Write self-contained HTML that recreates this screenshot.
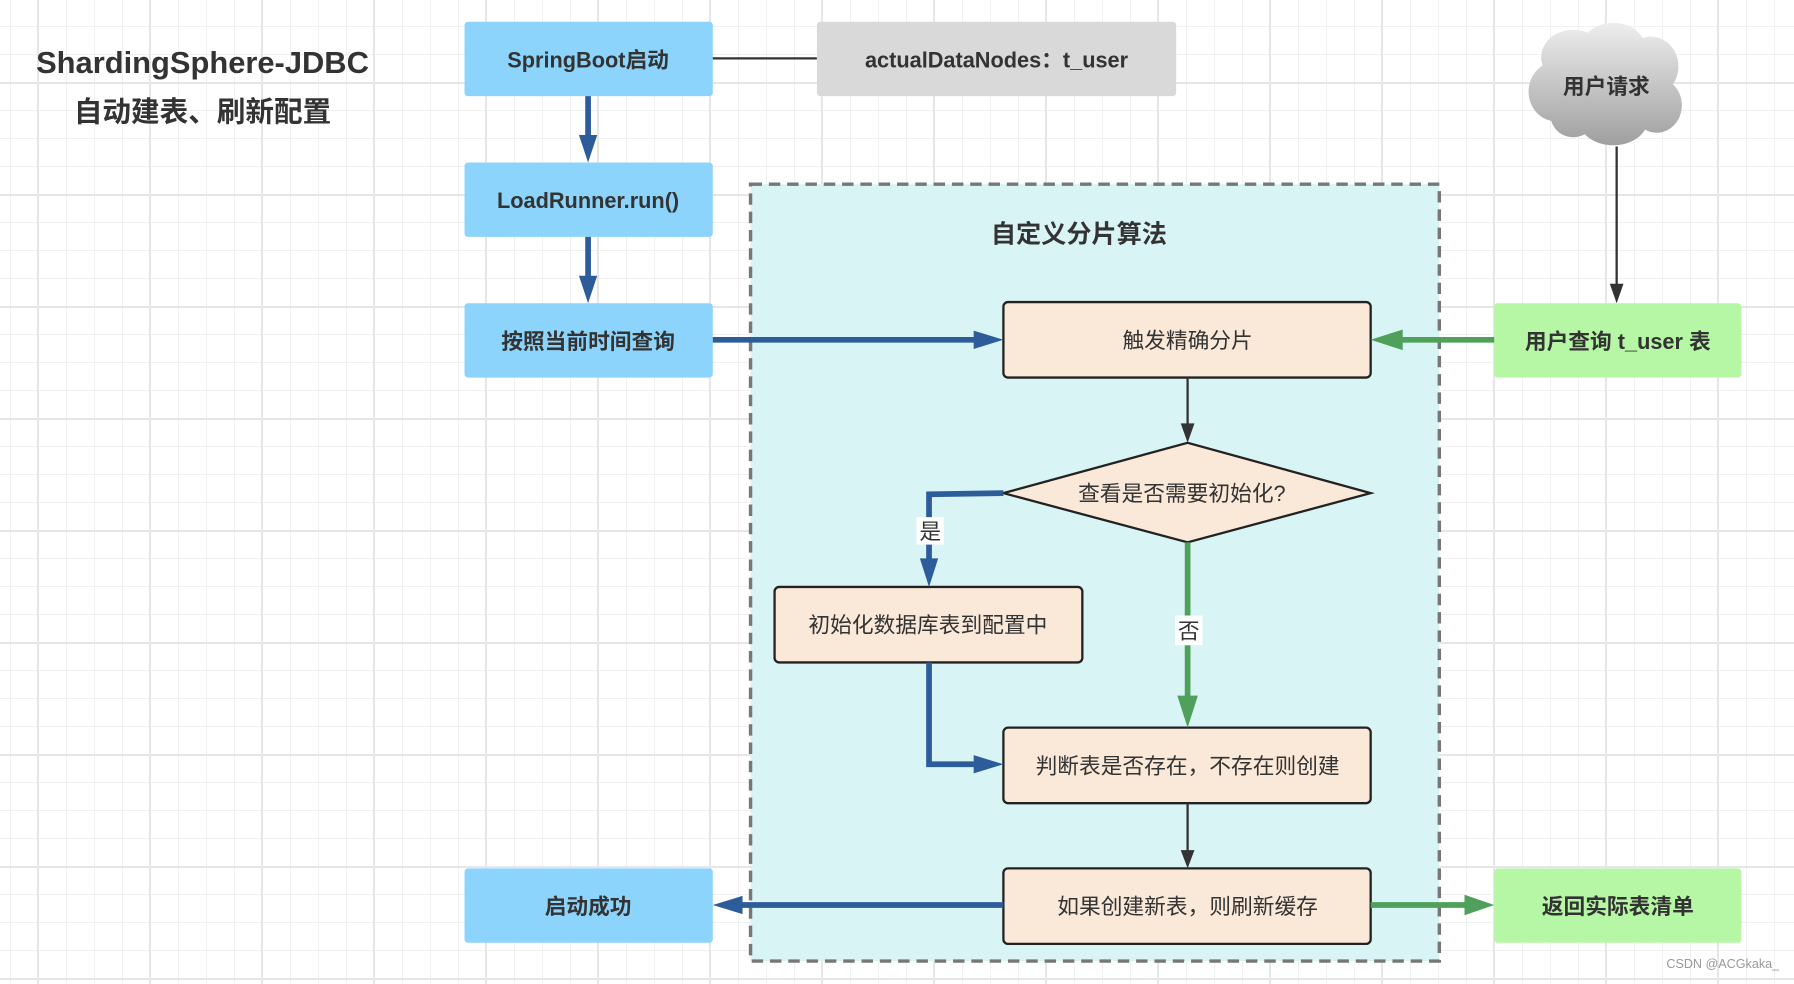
<!DOCTYPE html>
<html><head><meta charset="utf-8"><style>
html,body{margin:0;padding:0;}
body{width:1794px;height:978px;overflow:hidden;position:relative;background-color:#fff;
background-image:
linear-gradient(to right,#e6e6e6 2px,transparent 2px),
linear-gradient(to bottom,#e6e6e6 2px,transparent 2px),
linear-gradient(to right,#f1f1f1 1px,transparent 1px),
linear-gradient(to bottom,#f1f1f1 1px,transparent 1px);
background-size:112px 112px,112px 112px,28px 28px,28px 28px;
background-position:37px 0,0 82px,10px 0,0 26px;
font-family:"Liberation Sans","Noto Sans CJK SC",sans-serif;}
#w{position:absolute;left:0;top:0;width:1568px;height:855px;transform:scale(1.14413);transform-origin:0 0;}
</style></head><body><div id="w">
<svg width="1568" height="855" viewBox="0 0 1568 855" xmlns="http://www.w3.org/2000/svg" font-family="Liberation Sans, Noto Sans CJK SC, sans-serif">
<defs>
<linearGradient id="cg" gradientUnits="userSpaceOnUse" x1="0" y1="22" x2="0" y2="128"><stop offset="0" stop-color="#ececec"/><stop offset="1" stop-color="#9e9e9e"/></linearGradient>
</defs>
<text x="177" y="64" font-size="27" font-weight="bold" fill="#333" text-anchor="middle">ShardingSphere-JDBC</text>
<text x="177" y="106" font-size="25" font-weight="bold" fill="#333" text-anchor="middle">自动建表、刷新配置</text>

<rect x="656" y="161" width="602" height="679" fill="#d9f4f4" stroke="#777" stroke-width="3" stroke-dasharray="10,6"/>
<text x="943" y="212" font-size="22" font-weight="bold" fill="#333" text-anchor="middle">自定义分片算法</text>

<g fill="#8cd4fc">
<rect x="406" y="19" width="217" height="65" rx="3"/>
<rect x="406" y="142" width="217" height="65" rx="3"/>
<rect x="406" y="265" width="217" height="65" rx="3"/>
<rect x="406" y="759" width="217" height="65" rx="3"/>
</g>
<g font-size="19" font-weight="bold" fill="#333" text-anchor="middle">
<text x="514" y="59">SpringBoot启动</text>
<text x="514" y="182">LoadRunner.run()</text>
<text x="514" y="305">按照当前时间查询</text>
<text x="514" y="799">启动成功</text>
</g>
<line x1="623" y1="51" x2="714" y2="51" stroke="#333" stroke-width="2"/>
<rect x="714" y="19" width="314" height="65" rx="3" fill="#d9d9d9"/>
<text x="871" y="59" font-size="19" font-weight="bold" fill="#333" text-anchor="middle">actualDataNodes：t_user</text>

<g fill="url(#cg)">
<ellipse cx="1403" cy="75" rx="58" ry="40"/>
<ellipse cx="1375" cy="50" rx="28" ry="24"/><ellipse cx="1410" cy="42" rx="28" ry="22"/><ellipse cx="1443" cy="58" rx="24" ry="26"/>
<ellipse cx="1360" cy="80" rx="24" ry="26"/><ellipse cx="1448" cy="92" rx="22" ry="24"/><ellipse cx="1410" cy="105" rx="30" ry="22"/><ellipse cx="1375" cy="100" rx="20" ry="20"/>
</g>
<text x="1404" y="82" font-size="19" font-weight="bold" fill="#333" text-anchor="middle">用户请求</text>
<line x1="1413" y1="128" x2="1413" y2="250" stroke="#333" stroke-width="2"/>
<polygon points="1407,248 1419,248 1413,265" fill="#333"/>

<rect x="1306" y="265" width="216" height="65" rx="3" fill="#b6f7a6"/>
<rect x="1306" y="759" width="216" height="65" rx="3" fill="#b6f7a6"/>
<text x="1414" y="305" font-size="19" font-weight="bold" fill="#333" text-anchor="middle">用户查询 t_user 表</text>
<text x="1414" y="799" font-size="19" font-weight="bold" fill="#333" text-anchor="middle">返回实际表清单</text>

<g fill="#fae8d8" stroke="#222" stroke-width="2">
<rect x="877" y="264" width="321" height="66" rx="4"/>
<rect x="677" y="513" width="269" height="66" rx="4"/>
<rect x="877" y="636" width="321" height="66" rx="4"/>
<rect x="877" y="759" width="321" height="66" rx="4"/>
<polygon points="877,431 1038,387 1198,431 1038,474"/>
</g>
<g font-size="19" fill="#333" text-anchor="middle">
<text x="1038" y="304">触发精确分片</text>
<text x="1033" y="438">查看是否需要初始化?</text>
<text x="811" y="553">初始化数据库表到配置中</text>
<text x="1038" y="676">判断表是否存在，不存在则创建</text>
<text x="1038" y="799">如果创建新表，则刷新缓存</text>
</g>

<g stroke="#2d5c9b" stroke-width="5" fill="none">
<line x1="514" y1="84" x2="514" y2="122"/>
<line x1="514" y1="207" x2="514" y2="245"/>
<line x1="623" y1="297" x2="855" y2="297"/>
<polyline points="877,431 812,432 812,492"/>
<polyline points="812,579 812,668 855,668"/>
<line x1="877" y1="791" x2="645" y2="791"/>
</g>
<g fill="#2d5c9b">
<polygon points="506,118 522,118 514,142"/>
<polygon points="506,241 522,241 514,265"/>
<polygon points="851,289 851,305 877,297"/>
<polygon points="804,488 820,488 812,513"/>
<polygon points="851,660 851,676 877,668"/>
<polygon points="649,783 649,799 623,791"/>
</g>
<rect x="801" y="452" width="24" height="24" fill="#fff"/>
<text x="813" y="471" font-size="19" fill="#333" text-anchor="middle">是</text>

<g stroke="#4ea05a" stroke-width="5" fill="none">
<line x1="1306" y1="297" x2="1222" y2="297"/>
<line x1="1038" y1="474" x2="1038" y2="612"/>
<line x1="1198" y1="791" x2="1284" y2="791"/>
</g>
<g fill="#4ea05a">
<polygon points="1226,288 1226,306 1198,297"/>
<polygon points="1029,608 1047,608 1038,636"/>
<polygon points="1280,782 1280,800 1306,791"/>
</g>
<rect x="1027" y="538" width="24" height="26" fill="#fff"/>
<text x="1039" y="558" font-size="19" fill="#333" text-anchor="middle">否</text>

<g stroke="#333" stroke-width="2">
<line x1="1038" y1="330" x2="1038" y2="372"/>
<line x1="1038" y1="702" x2="1038" y2="745"/>
</g>
<polygon points="1032,370 1044,370 1038,387" fill="#333"/>
<polygon points="1032,743 1044,743 1038,759" fill="#333"/>

<text x="1555" y="846" font-size="11" fill="#999" text-anchor="end">CSDN @ACGkaka_</text>
</svg>
</div></body></html>
